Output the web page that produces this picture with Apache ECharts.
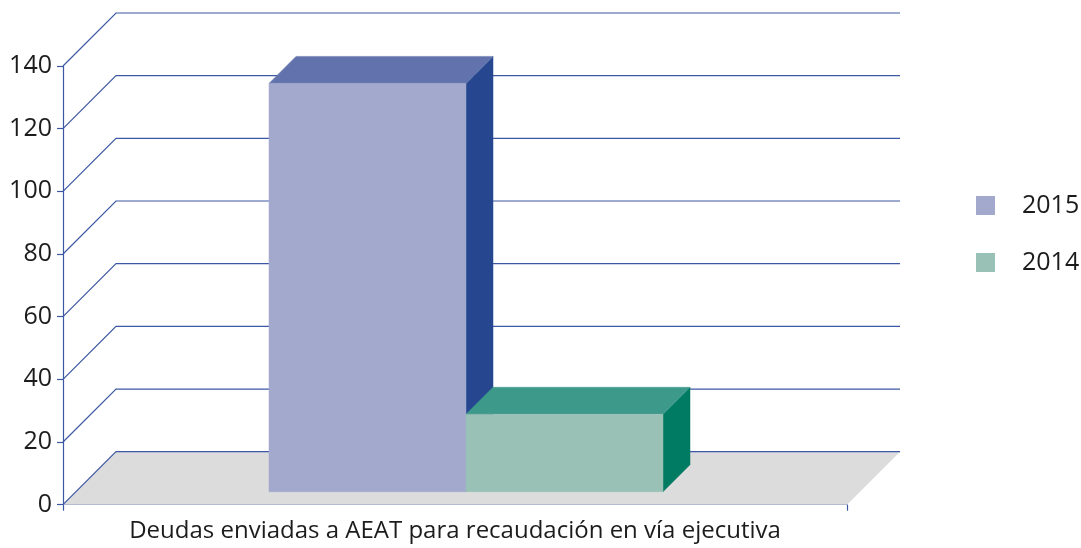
<!DOCTYPE html>
<html>
<head>
<meta charset="utf-8">
<style>html,body{margin:0;padding:0;background:#fff}#c{width:1081px;height:548px}</style>
<script src="https://cdn.jsdelivr.net/npm/echarts@6/dist/echarts.min.js"></script>
</head>
<body>
<div id="c"></div>
<script>
var categories = ['Deudas enviadas a AEAT para recaudación en vía ejecutiva'];
var values2015 = [130.3];
var values2014 = [24.7];
var yTicks = [0, 20, 40, 60, 80, 100, 120, 140];

var FONT = '"Open Sans", "Noto Sans", sans-serif';
var TEXT = '#1c1c1c';
var LINE = '#3c58a2';
var WALL_DEPTH = 53;
var BAR_DX = 11, BAR_DY = 13, BAR_DEPTH = 27;
var BAR_RATIO = 197 / 784;

function wallItem(params, api) {
  var v = api.value(1);
  var cs = params.coordSys;
  var y = api.coord([0, v])[1];
  var x0 = cs.x, x1 = cs.x + cs.width;
  var children = [];
  if (v === 0) {
    children.push({
      type: 'polygon',
      shape: { points: [[x0, y], [x0 + WALL_DEPTH, y - WALL_DEPTH], [x1 + WALL_DEPTH, y - WALL_DEPTH], [x1, y]] },
      style: { fill: '#dcdcdc' }
    });
  }
  children.push({
    type: 'polyline',
    shape: { points: [[x0, y], [x0 + WALL_DEPTH, y - WALL_DEPTH], [x1 + WALL_DEPTH, y - WALL_DEPTH]] },
    style: { fill: null, stroke: LINE, lineWidth: 1.2 }
  });
  return { type: 'group', children: children };
}

function barItem(side, colors) {
  return function (params, api) {
    var center = api.coord([api.value(0), 0])[0];
    var y0 = api.coord([api.value(0), 0])[1] - BAR_DY;
    var yT = api.coord([api.value(0), api.value(1)])[1] - BAR_DY;
    var w = api.size([1, 0])[0] * BAR_RATIO;
    var xL = center + BAR_DX + (side < 0 ? -w : 0);
    var xR = xL + w;
    var d = BAR_DEPTH;
    function poly(pts, c) {
      return { type: 'polygon', shape: { points: pts }, style: { fill: c, stroke: c, lineWidth: 0.5 } };
    }
    return {
      type: 'group',
      children: [
        poly([[xR, yT], [xR + d, yT - d], [xR + d, y0 - d], [xR, y0]], colors.side),
        poly([[xL, yT], [xL + d, yT - d], [xR + d, yT - d], [xR, yT]], colors.top),
        poly([[xL, yT], [xR, yT], [xR, y0], [xL, y0]], colors.front)
      ]
    };
  };
}

var chart = echarts.init(document.getElementById('c'), null, { renderer: 'canvas' });
chart.setOption({
  animation: false,
  backgroundColor: '#ffffff',
  grid: { left: 63, top: 66, width: 784, height: 438.7 },
  legend: {
    orient: 'vertical',
    left: 971,
    top: 188,
    itemWidth: 19,
    itemHeight: 19,
    itemGap: 32,
    icon: 'rect',
    data: ['2015', '2014'],
    textStyle: { fontFamily: FONT, fontSize: 25, color: TEXT, padding: [0, 0, 0, 22] }
  },
  xAxis: {
    type: 'category',
    data: categories,
    axisLine: { lineStyle: { color: LINE, width: 1.2 } },
    axisTick: { show: true, alignWithLabel: false, length: 6, lineStyle: { color: LINE, width: 1.2 } },
    axisLabel: { fontFamily: FONT, fontSize: 24, color: TEXT, margin: 14 }
  },
  yAxis: {
    type: 'value',
    min: 0,
    max: 140,
    interval: 20,
    axisLine: { show: true, lineStyle: { color: LINE, width: 1.2 } },
    axisTick: { show: true, length: 6, lineStyle: { color: LINE, width: 1.2 } },
    splitLine: { show: false },
    axisLabel: { fontFamily: FONT, fontSize: 25, color: TEXT, margin: 11 }
  },
  series: [
    {
      name: 'wall', type: 'custom', silent: true, z: 1,
      renderItem: wallItem,
      encode: { x: 0, y: 1 },
      data: yTicks.map(function (t) { return [0, t]; })
    },
    {
      name: '2015', type: 'custom', z: 2,
      itemStyle: { color: '#a3a9cd' },
      renderItem: barItem(-1, { front: '#a3a9cd', top: '#6272ac', side: '#264790' }),
      encode: { x: 0, y: 1 },
      data: values2015.map(function (v, i) { return [i, v]; })
    },
    {
      name: '2014', type: 'custom', z: 3,
      itemStyle: { color: '#9ac1b6' },
      renderItem: barItem(1, { front: '#9ac1b6', top: '#3d9a8b', side: '#007b63' }),
      encode: { x: 0, y: 1 },
      data: values2014.map(function (v, i) { return [i, v]; })
    }
  ]
});
</script>
</body>
</html>
